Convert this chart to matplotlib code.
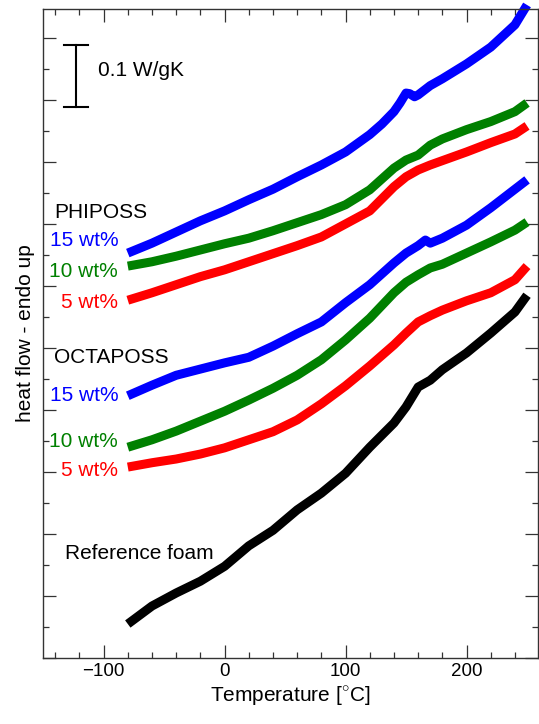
import matplotlib
matplotlib.use("Agg")
import matplotlib.pyplot as plt
from matplotlib.ticker import MultipleLocator

plt.rcParams['font.family'] = ['Liberation Sans', 'DejaVu Sans']
plt.rcParams['mathtext.fontset'] = 'custom'
plt.rcParams['mathtext.rm'] = 'Liberation Sans'

# temperature grid shared by most curves
temps = [-80, -60, -40, -20, 0, 20, 40, 60, 80, 100, 120, 140, 150, 160, 170, 180, 200, 220, 240, 250]

# PHIPOSS 15 wt% has a small peak near 150 C, so it gets its own grid
temps_phi15 = [-80, -60, -40, -20, 0, 20, 40, 60, 80, 100, 120, 130, 140, 145, 150, 153, 157, 160, 170, 180, 200, 220, 240, 250]
phi15 = [0.653, 0.669, 0.687, 0.705, 0.721, 0.739, 0.756, 0.776, 0.795, 0.816, 0.844, 0.861, 0.881, 0.895,
         0.911, 0.910, 0.905, 0.908, 0.923, 0.934, 0.958, 0.985, 1.021, 1.053]
phi10 = [0.632, 0.639, 0.648, 0.658, 0.668, 0.677, 0.689, 0.702, 0.715, 0.731, 0.755, 0.790, 0.803, 0.811,
         0.827, 0.837, 0.852, 0.865, 0.881, 0.895]
phi5 = [0.577, 0.589, 0.602, 0.615, 0.626, 0.639, 0.652, 0.665, 0.679, 0.700, 0.721, 0.760, 0.776, 0.787,
        0.795, 0.802, 0.816, 0.831, 0.845, 0.858]

# OCTAPOSS 15 wt% has a small step near 167 C
temps_octa15 = [-80, -60, -40, -20, 0, 20, 40, 60, 80, 100, 120, 140, 150, 160, 166, 170, 180, 200, 220, 240, 250]
octa15 = [0.423, 0.440, 0.456, 0.466, 0.476, 0.485, 0.503, 0.523, 0.542, 0.573, 0.602, 0.637, 0.653, 0.665,
          0.674, 0.669, 0.677, 0.698, 0.726, 0.756, 0.771]
octa10 = [0.340, 0.352, 0.366, 0.382, 0.398, 0.416, 0.435, 0.456, 0.481, 0.513, 0.548, 0.589, 0.606, 0.618,
          0.629, 0.635, 0.653, 0.671, 0.690, 0.703]
octa5 = [0.308, 0.315, 0.321, 0.329, 0.339, 0.352, 0.365, 0.384, 0.410, 0.439, 0.471, 0.505, 0.524, 0.542,
         0.552, 0.561, 0.576, 0.589, 0.610, 0.632]
reference = [0.055, 0.084, 0.105, 0.124, 0.148, 0.181, 0.206, 0.239, 0.266, 0.298, 0.340, 0.379, 0.405, 0.437,
             0.448, 0.465, 0.492, 0.524, 0.558, 0.585]

blue, green, red = '#0000ff', '#008000', '#ff0000'
lw = 6.5
style = dict(lw=lw, solid_capstyle='butt', solid_joinstyle='round')

fig = plt.figure(figsize=(5.39, 7.24), dpi=100)
ax = fig.add_axes([0.080, 0.091, 0.918, 0.897])

ax.plot(temps_phi15, phi15, color=blue, clip_on=False, **style)
ax.plot(temps, phi10, color=green, **style)
ax.plot(temps, phi5, color=red, **style)
ax.plot(temps_octa15, octa15, color=blue, **style)
ax.plot(temps, octa10, color=green, **style)
ax.plot(temps, octa5, color=red, **style)
ax.plot(temps, reference, color='black', **style)

ax.set_xlim(-150, 259)
ax.set_ylim(0, 1.047)

fs = 15

# scale bar 0.1 W/gK
ax.plot([-123, -123], [0.889, 0.989], color='black', lw=1.5)
ax.plot([-133, -113], [0.889, 0.889], color='black', lw=1.5)
ax.plot([-133, -113], [0.989, 0.989], color='black', lw=1.5)
ax.text(-105, 0.947, '0.1 W/gK', fontsize=fs, va='center', ha='left')

ax.text(-141, 0.718, 'PHIPOSS', fontsize=fs, va='center', ha='left')
ax.text(-88, 0.673, '15 wt%', fontsize=fs, va='center', ha='right', color=blue)
ax.text(-88, 0.623, '10 wt%', fontsize=fs, va='center', ha='right', color=green)
ax.text(-88, 0.573, '5 wt%', fontsize=fs, va='center', ha='right', color=red)
ax.text(-141, 0.485, 'OCTAPOSS', fontsize=fs, va='center', ha='left')
ax.text(-88, 0.423, '15 wt%', fontsize=fs, va='center', ha='right', color=blue)
ax.text(-88, 0.350, '10 wt%', fontsize=fs, va='center', ha='right', color=green)
ax.text(-88, 0.303, '5 wt%', fontsize=fs, va='center', ha='right', color=red)
ax.text(-132, 0.169, 'Reference foam', fontsize=fs, va='center', ha='left')

ax.xaxis.set_major_locator(MultipleLocator(100))
ax.xaxis.set_minor_locator(MultipleLocator(20))
ax.yaxis.set_major_locator(MultipleLocator(0.1))
ax.yaxis.set_minor_locator(MultipleLocator(0.05))
ax.tick_params(which='both', direction='in', top=True, right=True, colors='#333333', labelcolor='black',
               labelsize=13.5, labelleft=False)
ax.tick_params(which='major', length=9.5, width=0.9)
ax.tick_params(which='minor', length=4.5, width=0.9)
for s in ax.spines.values():
    s.set_color('#333333')
    s.set_linewidth(1.0)

ax.set_xlabel(r'Temperature [$^{\circ}$C]', fontsize=fs, labelpad=3)
ax.set_ylabel('heat flow - endo up', fontsize=fs, labelpad=6)

fig.savefig('out.png', dpi=100)
